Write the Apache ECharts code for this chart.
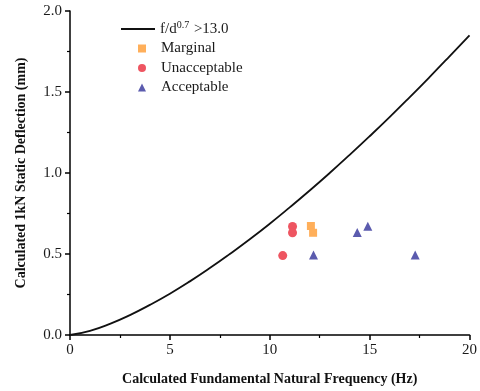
<!DOCTYPE html>
<html>
<head>
<meta charset="utf-8">
<script src="https://cdn.jsdelivr.net/npm/echarts@6/dist/echarts.min.js"></script>
<style>html,body{margin:0;padding:0;background:#fff;}#c{width:480px;height:391px;}</style>
</head>
<body>
<div id="c"></div>
<script>
// Limit curve f/d^0.7 = 13.0
const curveF = [0, 1, 2, 3, 4, 5, 6, 7, 8, 9, 10, 11, 12, 13, 14, 15, 16, 17, 18, 19, 20];
const curveD = [0, 0.026, 0.069, 0.123, 0.186, 0.255, 0.331, 0.413, 0.500, 0.591, 0.687, 0.788, 0.892, 1.000, 1.112, 1.227, 1.345, 1.467, 1.592, 1.720, 1.850];

const marginalF = [12.06, 12.17];
const marginalD = [0.673, 0.631];
const unacceptableF = [11.14, 11.14, 10.65];
const unacceptableD = [0.670, 0.631, 0.490];
const acceptableF = [14.91, 14.38, 12.19, 17.28];
const acceptableD = [0.672, 0.633, 0.494, 0.494];

const xTicks = [0, 5, 10, 15, 20];
const yTicks = [0.0, 0.5, 1.0, 1.5, 2.0];

const zip = (a, b) => a.map((v, i) => [v, b[i]]);
const FONT = '"Liberation Serif", "Times New Roman", serif';

const chart = echarts.init(document.getElementById('c'));
chart.setOption({
  animation: false,
  backgroundColor: '#fff',
  textStyle: { fontFamily: FONT },
  grid: { left: 70, top: 11, width: 402, height: 324 },
  legend: [
    {
      orient: 'vertical',
      left: 116, top: 15,
      itemWidth: 34, itemHeight: 2, itemGap: 5,
      textStyle: {
        fontFamily: FONT, fontSize: 15, color: '#1a1a1a',
        rich: {
          n: { fontFamily: FONT, fontSize: 15, color: '#1a1a1a' },
          s: { fontFamily: FONT, fontSize: 10, color: '#1a1a1a', verticalAlign: 'top', padding: [0, 1, 8, 0] }
        }
      },
      formatter: function () { return '{n|f/d}{s|0.7}{n| >13.0}'; },
      data: [{ name: 'curve', icon: 'rect' }]
    },
    {
      orient: 'vertical',
      left: 133, top: 36,
      itemWidth: 8, itemHeight: 8, itemGap: 4.5,
      textStyle: { fontFamily: FONT, fontSize: 15, color: '#1a1a1a', padding: [0, 0, 0, 10] },
      data: [
        { name: 'Marginal', icon: 'rect' },
        { name: 'Unacceptable', icon: 'circle' },
        { name: 'Acceptable', icon: 'triangle' }
      ]
    }
  ],
  xAxis: {
    type: 'value', min: 0, max: 20, interval: 5,
    name: 'Calculated Fundamental Natural Frequency (Hz)',
    nameLocation: 'middle', nameGap: 37,
    nameTextStyle: { fontFamily: FONT, fontSize: 14, fontWeight: 'bold', color: '#111' },
    axisLine: { onZero: false, lineStyle: { color: '#000', width: 1.5 } },
    axisTick: { show: true, inside: false, length: 5, lineStyle: { color: '#000', width: 1.5 } },
    minorTick: { show: true, splitNumber: 2, length: 3, lineStyle: { color: '#000', width: 1.2 } },
    axisLabel: { fontFamily: FONT, fontSize: 15, color: '#1a1a1a', margin: 8,
      formatter: v => xTicks.includes(v) ? String(v) : '' },
    splitLine: { show: false }
  },
  yAxis: {
    type: 'value', min: 0, max: 2, interval: 0.5,
    name: 'Calculated 1kN Static Deflection (mm)',
    nameLocation: 'middle', nameGap: 42,
    nameTextStyle: { fontFamily: FONT, fontSize: 14, fontWeight: 'bold', color: '#111' },
    axisLine: { show: true, onZero: false, lineStyle: { color: '#000', width: 1.5 } },
    axisTick: { show: true, inside: false, length: 5, lineStyle: { color: '#000', width: 1.5 } },
    minorTick: { show: true, splitNumber: 2, length: 3, lineStyle: { color: '#000', width: 1.2 } },
    axisLabel: { fontFamily: FONT, fontSize: 15, color: '#1a1a1a', margin: 8,
      formatter: v => yTicks.some(t => Math.abs(t - v) < 1e-9) ? v.toFixed(1) : '' },
    splitLine: { show: false }
  },
  series: [
    {
      name: 'curve', type: 'line', smooth: true, symbol: 'none', showSymbol: false,
      data: zip(curveF, curveD),
      lineStyle: { color: '#111', width: 1.8 },
      itemStyle: { color: '#111' }
    },
    {
      name: 'Marginal', type: 'scatter', symbol: 'rect', symbolSize: 8,
      data: zip(marginalF, marginalD),
      itemStyle: { color: '#FFAF5A', opacity: 1 }
    },
    {
      name: 'Unacceptable', type: 'scatter', symbol: 'circle', symbolSize: 9,
      data: zip(unacceptableF, unacceptableD),
      itemStyle: { color: '#EE5561', opacity: 1 }
    },
    {
      name: 'Acceptable', type: 'scatter', symbol: 'triangle', symbolSize: 9,
      data: zip(acceptableF, acceptableD),
      itemStyle: { color: '#5B5BAE', opacity: 1 }
    }
  ]
});
</script>
</body>
</html>
